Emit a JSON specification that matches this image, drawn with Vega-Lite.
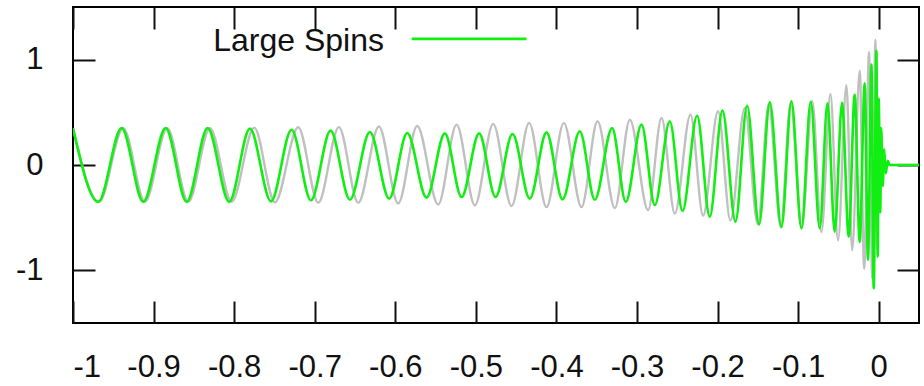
{
  "$schema": "https://vega.github.io/schema/vega-lite/v6.json",
  "width": 846,
  "height": 316,
  "autosize": {"type": "none"},
  "padding": {"left": 73, "top": 7, "right": 5, "bottom": 63},
  "background": "white",
  "config": {
    "view": {"stroke": "black", "strokeWidth": 2},
    "axis": {
      "domain": false,
      "grid": false,
      "ticks": true,
      "tickSize": -22,
      "tickWidth": 2,
      "tickColor": "#111111",
      "labelFont": "Liberation Sans",
      "labelFontSize": 31,
      "labelColor": "#111111",
      "title": null
    }
  },
  "datasets": {
    "gray": [
      {"t": -1.0, "h": 0.35}, {"t": -0.9677, "h": -0.35}, {"t": -0.9376, "h": 0.35}, {"t": -0.9107, "h": -0.35},
      {"t": -0.883, "h": 0.35}, {"t": -0.8569, "h": -0.35}, {"t": -0.83, "h": 0.35}, {"t": -0.8031, "h": -0.35},
      {"t": -0.7751, "h": 0.355}, {"t": -0.7494, "h": -0.355}, {"t": -0.7205, "h": 0.358}, {"t": -0.6956, "h": -0.358},
      {"t": -0.67, "h": 0.36}, {"t": -0.646, "h": -0.36}, {"t": -0.6203, "h": 0.365}, {"t": -0.5964, "h": -0.365},
      {"t": -0.5728, "h": 0.37}, {"t": -0.5468, "h": -0.375}, {"t": -0.5239, "h": 0.383}, {"t": -0.5012, "h": -0.383},
      {"t": -0.4785, "h": 0.39}, {"t": -0.4557, "h": -0.39}, {"t": -0.4339, "h": 0.4}, {"t": -0.4123, "h": -0.4},
      {"t": -0.3908, "h": 0.4}, {"t": -0.3689, "h": -0.4}, {"t": -0.349, "h": 0.415}, {"t": -0.3275, "h": -0.41},
      {"t": -0.3089, "h": 0.43}, {"t": -0.2862, "h": -0.43}, {"t": -0.2696, "h": 0.446}, {"t": -0.2531, "h": -0.46},
      {"t": -0.2336, "h": 0.478}, {"t": -0.218, "h": -0.48}, {"t": -0.1994, "h": 0.51}, {"t": -0.184, "h": -0.525},
      {"t": -0.1663, "h": 0.54}, {"t": -0.1501, "h": -0.56}, {"t": -0.1365, "h": 0.575}, {"t": -0.1216, "h": -0.585},
      {"t": -0.1092, "h": 0.59}, {"t": -0.0955, "h": -0.6}, {"t": -0.0825, "h": 0.605}, {"t": -0.0711, "h": -0.636},
      {"t": -0.0599, "h": 0.674}, {"t": -0.0505, "h": -0.715}, {"t": -0.0401, "h": 0.757}, {"t": -0.0329, "h": -0.81},
      {"t": -0.0236, "h": 0.896}, {"t": -0.018, "h": -0.985}, {"t": -0.012, "h": 1.073}, {"t": -0.0081, "h": -1.08},
      {"t": -0.0041, "h": 1.19}, {"t": -0.0019, "h": -0.8}, {"t": 0.0, "h": 0.4}, {"t": 0.0019, "h": -0.2},
      {"t": 0.0037, "h": 0.1}, {"t": 0.0062, "h": -0.04}, {"t": 0.0099, "h": 0.0}, {"t": 0.05, "h": 0.0}
    ],
    "green": [
      {"t": -1.0, "h": 0.35}, {"t": -0.9686, "h": -0.35}, {"t": -0.9396, "h": 0.35}, {"t": -0.9128, "h": -0.35},
      {"t": -0.885, "h": 0.35}, {"t": -0.8589, "h": -0.35}, {"t": -0.8329, "h": 0.35}, {"t": -0.8061, "h": -0.35},
      {"t": -0.7804, "h": 0.345}, {"t": -0.7543, "h": -0.345}, {"t": -0.7287, "h": 0.335}, {"t": -0.7047, "h": -0.335},
      {"t": -0.6803, "h": 0.326}, {"t": -0.6563, "h": -0.33}, {"t": -0.6315, "h": 0.313}, {"t": -0.6076, "h": -0.32},
      {"t": -0.5852, "h": 0.304}, {"t": -0.5612, "h": -0.31}, {"t": -0.5385, "h": 0.3}, {"t": -0.5177, "h": -0.304},
      {"t": -0.4959, "h": 0.3}, {"t": -0.4756, "h": -0.304}, {"t": -0.4545, "h": 0.294}, {"t": -0.433, "h": -0.32},
      {"t": -0.4123, "h": 0.31}, {"t": -0.3924, "h": -0.326}, {"t": -0.371, "h": 0.32}, {"t": -0.3524, "h": -0.33},
      {"t": -0.3309, "h": 0.35}, {"t": -0.3139, "h": -0.35}, {"t": -0.2944, "h": 0.383}, {"t": -0.2779, "h": -0.38},
      {"t": -0.2593, "h": 0.415}, {"t": -0.2435, "h": -0.437}, {"t": -0.2254, "h": 0.468}, {"t": -0.2097, "h": -0.49},
      {"t": -0.1939, "h": 0.516}, {"t": -0.1778, "h": -0.538}, {"t": -0.1634, "h": 0.563}, {"t": -0.1485, "h": -0.565},
      {"t": -0.1352, "h": 0.595}, {"t": -0.1207, "h": -0.59}, {"t": -0.1083, "h": 0.605}, {"t": -0.0959, "h": -0.6},
      {"t": -0.0844, "h": 0.6}, {"t": -0.0732, "h": -0.6}, {"t": -0.0636, "h": 0.585}, {"t": -0.0546, "h": -0.633},
      {"t": -0.0455, "h": 0.59}, {"t": -0.0372, "h": -0.68}, {"t": -0.0298, "h": 0.668}, {"t": -0.0236, "h": -0.73},
      {"t": -0.0174, "h": 0.776}, {"t": -0.0133, "h": -0.9}, {"t": -0.0091, "h": 0.953}, {"t": -0.0062, "h": -1.17},
      {"t": -0.0029, "h": 1.085}, {"t": -0.0012, "h": -0.87}, {"t": 0.0, "h": 0.63}, {"t": 0.0019, "h": -0.45},
      {"t": 0.0031, "h": 0.35}, {"t": 0.005, "h": -0.2}, {"t": 0.0068, "h": 0.15}, {"t": 0.0087, "h": -0.08},
      {"t": 0.0112, "h": 0.04}, {"t": 0.0136, "h": 0.0}, {"t": 0.05, "h": 0.0}
    ],
    "legend": [
      {"label": "Large Spins", "tx": -0.614, "ty": 1.085, "x1": -0.5797, "x2": -0.4371, "ly": 1.197}
    ]
  },
  "resolve": {"axis": {"x": "independent", "y": "independent"}},
  "layer": [
    {
      "data": {"name": "gray"},
      "mark": {"type": "line", "interpolate": "monotone", "color": "#c0c0c0", "strokeWidth": 2.4, "clip": true},
      "encoding": {
        "x": {"field": "t", "type": "quantitative", "scale": {"domain": [-1, 0.05], "nice": false, "zero": false},
              "axis": {"orient": "bottom", "values": [-1, -0.9, -0.8, -0.7, -0.6, -0.5, -0.4, -0.3, -0.2, -0.1, 0],
                       "labelExpr": "datum.value == 0 ? '0' : (datum.value < 0 ? '-' : '') + format(abs(datum.value), '~g')",
                       "labelPadding": 51}},
        "y": {"field": "h", "type": "quantitative", "scale": {"domain": [-1.5, 1.5], "nice": false, "zero": false},
              "axis": {"orient": "left", "values": [-1, 0, 1],
                       "labelExpr": "datum.value == 0 ? '0' : (datum.value < 0 ? '-' : '') + format(abs(datum.value), '~g')",
                       "labelPadding": 52}}
      }
    },
    {
      "data": {"name": "green"},
      "mark": {"type": "line", "interpolate": "monotone", "color": "#11ee11", "strokeWidth": 2.6, "clip": true},
      "encoding": {
        "x": {"field": "t", "type": "quantitative",
              "axis": {"orient": "top", "values": [-1, -0.9, -0.8, -0.7, -0.6, -0.5, -0.4, -0.3, -0.2, -0.1, 0], "labels": false}},
        "y": {"field": "h", "type": "quantitative",
              "axis": {"orient": "right", "values": [-1, 0, 1], "labels": false}}
      }
    },
    {
      "data": {"name": "legend"},
      "mark": {"type": "text", "align": "right", "baseline": "alphabetic", "font": "Liberation Sans", "fontSize": 32, "color": "#111111"},
      "encoding": {
        "x": {"field": "tx", "type": "quantitative", "axis": null},
        "y": {"field": "ty", "type": "quantitative", "axis": null},
        "text": {"field": "label"}
      }
    },
    {
      "data": {"name": "legend"},
      "mark": {"type": "rule", "color": "#11ee11", "strokeWidth": 2.6},
      "encoding": {
        "x": {"field": "x1", "type": "quantitative", "axis": null},
        "x2": {"field": "x2"},
        "y": {"field": "ly", "type": "quantitative", "axis": null}
      }
    }
  ]
}
